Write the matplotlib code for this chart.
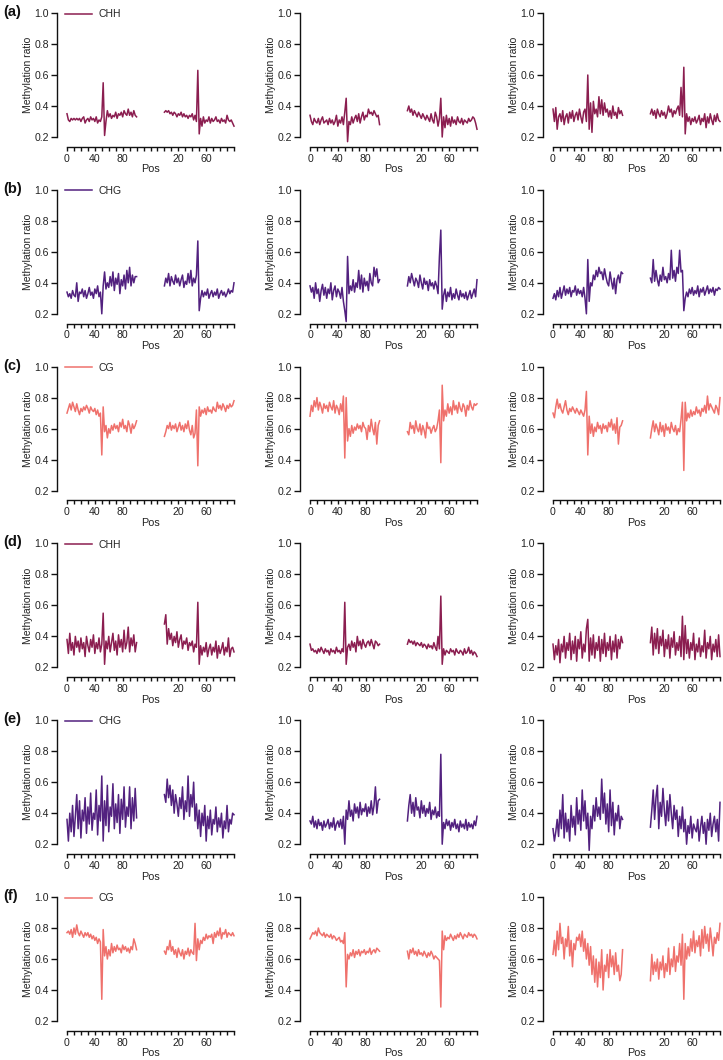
import matplotlib
matplotlib.use('Agg')
import matplotlib.pyplot as plt
import numpy as np

plt.rcParams['font.family'] = ['Liberation Sans', 'DejaVu Sans']

# ---------------- data ----------------
row_labels = ['(a)', '(b)', '(c)', '(d)', '(e)', '(f)']
row_context = ['CHH', 'CHG', 'CG', 'CHH', 'CHG', 'CG']
context_colors = {'CHH': '#8B1E50', 'CHG': '#52217F', 'CG': '#EF716C'}
x_tick_values = list(range(0, 241, 10))
x_tick_text = {0: '0', 40: '40', 80: '80', 160: '20', 200: '60'}
y_tick_values = [0.2, 0.4, 0.6, 0.8, 1.0]

a1_up = [0.35,0.31,0.30,0.32,0.31,0.32,0.31,0.32,0.31,0.32,0.30,0.32,0.33,0.29,0.31,0.32,0.30,0.33,0.31,0.32,0.30,0.33,0.29,0.31,0.30,0.33,0.55,0.21,0.30,0.37,0.33,0.35,0.32,0.34,0.33,0.36,0.32,0.35,0.34,0.36,0.33,0.37,0.35,0.34,0.38,0.34,0.36,0.33,0.37,0.34,0.33]
a1_dn = [0.36,0.37,0.36,0.37,0.35,0.36,0.34,0.36,0.35,0.33,0.35,0.34,0.36,0.33,0.35,0.33,0.34,0.32,0.34,0.33,0.35,0.31,0.34,0.30,0.63,0.22,0.32,0.27,0.33,0.29,0.31,0.30,0.33,0.29,0.32,0.30,0.31,0.33,0.30,0.31,0.29,0.32,0.30,0.31,0.29,0.34,0.31,0.30,0.31,0.29,0.27]
a2_up = [0.34,0.30,0.28,0.32,0.30,0.29,0.32,0.28,0.31,0.33,0.29,0.30,0.31,0.28,0.32,0.29,0.31,0.28,0.30,0.34,0.27,0.31,0.29,0.33,0.28,0.36,0.45,0.17,0.30,0.28,0.33,0.29,0.32,0.34,0.30,0.35,0.29,0.33,0.36,0.31,0.34,0.33,0.38,0.35,0.36,0.34,0.37,0.35,0.33,0.34,0.28]
a2_dn = [0.37,0.40,0.36,0.38,0.34,0.37,0.35,0.33,0.36,0.34,0.32,0.35,0.33,0.31,0.34,0.32,0.30,0.35,0.31,0.29,0.36,0.33,0.27,0.32,0.45,0.20,0.33,0.26,0.34,0.28,0.32,0.27,0.33,0.29,0.31,0.28,0.33,0.30,0.29,0.32,0.28,0.31,0.30,0.29,0.32,0.30,0.31,0.33,0.32,0.29,0.25]
a3_up = [0.38,0.30,0.39,0.25,0.33,0.35,0.30,0.37,0.28,0.33,0.35,0.29,0.36,0.32,0.37,0.30,0.34,0.36,0.31,0.38,0.33,0.29,0.36,0.38,0.30,0.60,0.25,0.42,0.23,0.43,0.35,0.38,0.33,0.46,0.35,0.44,0.34,0.42,0.36,0.38,0.33,0.37,0.32,0.40,0.34,0.36,0.32,0.39,0.35,0.37,0.34]
a3_dn = [0.35,0.38,0.34,0.37,0.32,0.38,0.35,0.33,0.37,0.34,0.36,0.32,0.35,0.40,0.36,0.38,0.33,0.37,0.35,0.38,0.40,0.34,0.52,0.33,0.65,0.22,0.35,0.30,0.33,0.28,0.32,0.30,0.33,0.29,0.31,0.34,0.28,0.32,0.30,0.35,0.26,0.33,0.29,0.35,0.31,0.28,0.34,0.30,0.35,0.31,0.30]

b1_up = [0.34,0.31,0.33,0.30,0.35,0.32,0.31,0.40,0.28,0.34,0.33,0.36,0.31,0.35,0.30,0.33,0.37,0.32,0.34,0.30,0.36,0.33,0.38,0.31,0.34,0.20,0.38,0.47,0.36,0.40,0.37,0.44,0.38,0.47,0.35,0.43,0.39,0.46,0.33,0.42,0.38,0.45,0.36,0.48,0.40,0.50,0.38,0.45,0.40,0.44,0.44]
b1_dn = [0.38,0.43,0.40,0.46,0.38,0.44,0.41,0.39,0.45,0.40,0.43,0.38,0.42,0.45,0.37,0.41,0.39,0.46,0.40,0.48,0.38,0.43,0.40,0.45,0.67,0.22,0.30,0.35,0.31,0.34,0.32,0.36,0.30,0.33,0.35,0.31,0.34,0.32,0.36,0.30,0.33,0.35,0.32,0.34,0.31,0.33,0.36,0.33,0.35,0.34,0.40]
b2_up = [0.38,0.34,0.37,0.30,0.40,0.33,0.36,0.28,0.35,0.39,0.32,0.37,0.30,0.36,0.33,0.40,0.29,0.35,0.38,0.31,0.36,0.34,0.30,0.37,0.28,0.22,0.15,0.57,0.33,0.38,0.35,0.42,0.34,0.40,0.37,0.48,0.36,0.45,0.34,0.43,0.38,0.41,0.35,0.46,0.40,0.38,0.50,0.44,0.49,0.40,0.42]
b2_dn = [0.38,0.44,0.40,0.46,0.42,0.38,0.43,0.41,0.37,0.45,0.40,0.36,0.43,0.39,0.41,0.35,0.42,0.38,0.40,0.36,0.41,0.38,0.33,0.57,0.74,0.23,0.32,0.36,0.28,0.34,0.31,0.37,0.29,0.33,0.30,0.36,0.32,0.29,0.35,0.31,0.33,0.30,0.34,0.29,0.32,0.35,0.30,0.33,0.36,0.31,0.42]
b3_up = [0.30,0.33,0.29,0.35,0.31,0.37,0.30,0.34,0.38,0.32,0.36,0.33,0.37,0.31,0.35,0.34,0.38,0.32,0.36,0.33,0.35,0.31,0.37,0.30,0.20,0.55,0.28,0.40,0.38,0.45,0.42,0.48,0.44,0.50,0.46,0.47,0.42,0.49,0.44,0.40,0.38,0.47,0.41,0.36,0.43,0.33,0.42,0.45,0.40,0.47,0.46]
b3_dn = [0.43,0.40,0.55,0.41,0.48,0.42,0.38,0.45,0.41,0.50,0.42,0.44,0.40,0.46,0.42,0.61,0.43,0.48,0.41,0.50,0.46,0.61,0.47,0.48,0.22,0.30,0.34,0.31,0.36,0.33,0.37,0.32,0.35,0.33,0.38,0.31,0.36,0.34,0.37,0.32,0.35,0.38,0.33,0.36,0.34,0.37,0.32,0.36,0.35,0.37,0.36]

c1_up = [0.70,0.73,0.76,0.72,0.77,0.74,0.71,0.76,0.72,0.69,0.73,0.71,0.74,0.72,0.75,0.73,0.70,0.74,0.72,0.71,0.73,0.69,0.72,0.68,0.70,0.43,0.74,0.58,0.62,0.54,0.60,0.57,0.62,0.59,0.63,0.60,0.62,0.58,0.64,0.61,0.66,0.60,0.62,0.58,0.65,0.62,0.57,0.63,0.60,0.62,0.65]
c1_dn = [0.55,0.58,0.62,0.60,0.64,0.59,0.62,0.60,0.63,0.58,0.61,0.64,0.59,0.62,0.58,0.63,0.60,0.65,0.59,0.56,0.62,0.54,0.57,0.72,0.36,0.74,0.68,0.72,0.70,0.73,0.69,0.74,0.71,0.72,0.70,0.74,0.72,0.71,0.77,0.73,0.75,0.72,0.76,0.74,0.71,0.75,0.73,0.76,0.74,0.75,0.78]
c2_up = [0.68,0.75,0.71,0.78,0.74,0.80,0.72,0.77,0.74,0.70,0.76,0.73,0.75,0.71,0.77,0.74,0.72,0.78,0.70,0.75,0.73,0.69,0.76,0.71,0.81,0.41,0.80,0.52,0.60,0.55,0.62,0.57,0.61,0.59,0.63,0.60,0.62,0.58,0.64,0.61,0.60,0.53,0.62,0.58,0.66,0.60,0.56,0.64,0.50,0.62,0.65]
c2_dn = [0.58,0.56,0.64,0.60,0.62,0.57,0.65,0.60,0.58,0.63,0.56,0.62,0.59,0.54,0.64,0.60,0.61,0.57,0.60,0.62,0.58,0.60,0.65,0.72,0.38,0.88,0.65,0.72,0.68,0.76,0.70,0.74,0.69,0.78,0.72,0.75,0.70,0.77,0.73,0.71,0.76,0.74,0.68,0.75,0.72,0.78,0.74,0.72,0.76,0.75,0.76]
c3_up = [0.70,0.67,0.74,0.79,0.73,0.76,0.72,0.70,0.74,0.78,0.72,0.69,0.73,0.71,0.74,0.72,0.70,0.73,0.71,0.69,0.72,0.70,0.68,0.72,0.84,0.43,0.68,0.57,0.63,0.55,0.61,0.58,0.64,0.60,0.62,0.57,0.63,0.60,0.62,0.58,0.64,0.61,0.66,0.59,0.63,0.57,0.67,0.50,0.61,0.62,0.65]
c3_dn = [0.54,0.60,0.65,0.58,0.63,0.60,0.56,0.64,0.58,0.62,0.55,0.63,0.59,0.61,0.57,0.64,0.60,0.58,0.62,0.56,0.60,0.58,0.66,0.77,0.33,0.77,0.65,0.70,0.67,0.72,0.68,0.71,0.69,0.74,0.70,0.72,0.68,0.73,0.71,0.75,0.70,0.81,0.72,0.76,0.74,0.72,0.70,0.75,0.73,0.69,0.80]

d1_up = [0.38,0.29,0.42,0.31,0.36,0.28,0.40,0.33,0.37,0.30,0.39,0.32,0.36,0.27,0.40,0.34,0.30,0.38,0.33,0.41,0.29,0.36,0.32,0.39,0.30,0.35,0.55,0.22,0.37,0.32,0.40,0.30,0.36,0.42,0.31,0.37,0.28,0.41,0.33,0.38,0.30,0.44,0.32,0.36,0.46,0.30,0.39,0.34,0.41,0.30,0.36]
d1_dn = [0.48,0.54,0.35,0.45,0.38,0.42,0.34,0.40,0.36,0.43,0.33,0.38,0.41,0.32,0.37,0.35,0.39,0.31,0.36,0.34,0.37,0.30,0.35,0.33,0.62,0.22,0.34,0.28,0.33,0.30,0.36,0.27,0.32,0.35,0.28,0.33,0.30,0.37,0.26,0.34,0.29,0.32,0.36,0.28,0.33,0.30,0.39,0.27,0.32,0.33,0.30]
d2_up = [0.35,0.31,0.32,0.30,0.31,0.29,0.32,0.30,0.33,0.31,0.29,0.32,0.30,0.31,0.28,0.32,0.30,0.31,0.29,0.33,0.30,0.31,0.29,0.32,0.30,0.62,0.22,0.33,0.35,0.31,0.37,0.33,0.36,0.30,0.40,0.34,0.37,0.32,0.38,0.35,0.33,0.36,0.37,0.34,0.38,0.35,0.32,0.37,0.36,0.34,0.35]
d2_dn = [0.35,0.38,0.36,0.37,0.35,0.37,0.34,0.36,0.35,0.34,0.36,0.33,0.35,0.34,0.32,0.35,0.33,0.34,0.32,0.36,0.33,0.31,0.40,0.32,0.66,0.22,0.32,0.28,0.31,0.30,0.29,0.32,0.30,0.31,0.28,0.32,0.30,0.29,0.31,0.30,0.28,0.32,0.29,0.30,0.33,0.29,0.31,0.28,0.30,0.29,0.27]
d3_up = [0.35,0.25,0.34,0.28,0.38,0.23,0.35,0.30,0.40,0.26,0.36,0.31,0.42,0.25,0.37,0.29,0.40,0.24,0.38,0.32,0.43,0.26,0.35,0.30,0.45,0.51,0.24,0.39,0.28,0.41,0.26,0.36,0.31,0.40,0.24,0.38,0.29,0.42,0.27,0.36,0.31,0.40,0.25,0.37,0.30,0.41,0.26,0.38,0.32,0.40,0.36]
d3_dn = [0.36,0.46,0.28,0.42,0.32,0.45,0.29,0.40,0.34,0.44,0.27,0.38,0.32,0.41,0.26,0.39,0.33,0.43,0.28,0.36,0.31,0.40,0.27,0.53,0.25,0.47,0.29,0.38,0.26,0.36,0.31,0.42,0.25,0.35,0.30,0.39,0.27,0.34,0.30,0.44,0.26,0.36,0.32,0.40,0.25,0.35,0.30,0.38,0.27,0.41,0.27]

e1_up = [0.36,0.22,0.40,0.28,0.45,0.25,0.38,0.52,0.30,0.48,0.24,0.42,0.35,0.50,0.27,0.44,0.33,0.53,0.29,0.40,0.36,0.55,0.26,0.45,0.35,0.64,0.22,0.48,0.32,0.58,0.28,0.44,0.38,0.59,0.30,0.46,0.34,0.52,0.27,0.49,0.36,0.57,0.31,0.44,0.38,0.57,0.30,0.50,0.35,0.56,0.37]
e1_dn = [0.52,0.47,0.62,0.50,0.58,0.45,0.55,0.40,0.52,0.46,0.38,0.50,0.43,0.57,0.36,0.48,0.41,0.64,0.38,0.52,0.44,0.60,0.35,0.46,0.30,0.42,0.25,0.40,0.32,0.45,0.22,0.38,0.30,0.42,0.26,0.36,0.33,0.44,0.28,0.37,0.31,0.40,0.24,0.35,0.30,0.45,0.28,0.36,0.33,0.40,0.39]
e2_up = [0.35,0.33,0.38,0.31,0.35,0.30,0.36,0.32,0.34,0.29,0.35,0.31,0.33,0.36,0.30,0.34,0.31,0.37,0.29,0.33,0.35,0.31,0.36,0.30,0.38,0.20,0.42,0.36,0.48,0.38,0.42,0.35,0.46,0.40,0.44,0.37,0.47,0.39,0.43,0.41,0.46,0.38,0.44,0.40,0.48,0.39,0.45,0.57,0.40,0.48,0.49]
e2_dn = [0.35,0.45,0.52,0.40,0.47,0.38,0.50,0.42,0.44,0.37,0.48,0.40,0.45,0.38,0.43,0.40,0.47,0.36,0.42,0.39,0.44,0.37,0.41,0.38,0.78,0.20,0.34,0.30,0.36,0.32,0.35,0.29,0.34,0.31,0.36,0.30,0.33,0.28,0.35,0.31,0.33,0.30,0.36,0.29,0.34,0.31,0.33,0.30,0.35,0.32,0.38]
e3_up = [0.30,0.22,0.28,0.36,0.25,0.42,0.30,0.52,0.24,0.40,0.28,0.36,0.22,0.45,0.31,0.38,0.26,0.50,0.33,0.42,0.29,0.55,0.35,0.48,0.30,0.40,0.16,0.38,0.30,0.45,0.35,0.50,0.38,0.44,0.36,0.62,0.40,0.53,0.33,0.46,0.28,0.55,0.32,0.47,0.26,0.40,0.35,0.45,0.30,0.38,0.36]
e3_dn = [0.31,0.42,0.55,0.36,0.50,0.58,0.30,0.47,0.38,0.56,0.42,0.32,0.48,0.35,0.52,0.40,0.30,0.45,0.36,0.42,0.25,0.38,0.30,0.44,0.28,0.36,0.20,0.32,0.27,0.38,0.24,0.33,0.30,0.28,0.36,0.22,0.31,0.38,0.27,0.34,0.20,0.36,0.29,0.40,0.25,0.33,0.38,0.28,0.36,0.22,0.47]

f1_up = [0.77,0.78,0.76,0.79,0.74,0.80,0.76,0.82,0.77,0.75,0.78,0.76,0.74,0.77,0.75,0.77,0.74,0.76,0.73,0.75,0.72,0.74,0.70,0.73,0.71,0.34,0.79,0.62,0.68,0.60,0.66,0.62,0.70,0.64,0.68,0.65,0.69,0.66,0.67,0.64,0.69,0.66,0.68,0.65,0.67,0.64,0.68,0.66,0.73,0.70,0.66]
f1_dn = [0.65,0.63,0.68,0.66,0.72,0.65,0.68,0.63,0.66,0.61,0.67,0.64,0.62,0.66,0.60,0.65,0.63,0.67,0.62,0.66,0.64,0.63,0.83,0.59,0.73,0.66,0.72,0.70,0.74,0.72,0.76,0.73,0.75,0.74,0.76,0.70,0.77,0.74,0.78,0.75,0.80,0.73,0.77,0.76,0.79,0.74,0.77,0.76,0.75,0.77,0.75]
f2_up = [0.73,0.75,0.77,0.76,0.78,0.75,0.80,0.77,0.76,0.75,0.77,0.74,0.76,0.75,0.74,0.76,0.73,0.75,0.74,0.72,0.73,0.74,0.71,0.72,0.70,0.77,0.42,0.63,0.60,0.64,0.62,0.66,0.61,0.65,0.63,0.66,0.62,0.65,0.64,0.66,0.63,0.65,0.64,0.67,0.63,0.65,0.66,0.64,0.67,0.66,0.65]
f2_dn = [0.65,0.60,0.66,0.64,0.67,0.63,0.65,0.62,0.66,0.63,0.64,0.62,0.65,0.63,0.61,0.64,0.62,0.65,0.63,0.60,0.62,0.61,0.60,0.59,0.29,0.78,0.66,0.75,0.72,0.74,0.73,0.76,0.74,0.72,0.75,0.73,0.76,0.74,0.77,0.75,0.73,0.76,0.75,0.74,0.77,0.75,0.76,0.74,0.76,0.75,0.73]
f3_up = [0.63,0.72,0.62,0.78,0.66,0.83,0.70,0.74,0.60,0.73,0.68,0.81,0.62,0.72,0.55,0.70,0.66,0.74,0.72,0.76,0.68,0.78,0.65,0.73,0.60,0.70,0.56,0.68,0.50,0.62,0.45,0.60,0.42,0.58,0.48,0.66,0.40,0.56,0.52,0.63,0.48,0.66,0.55,0.62,0.50,0.64,0.52,0.56,0.46,0.50,0.66]
f3_dn = [0.46,0.63,0.50,0.58,0.52,0.60,0.47,0.58,0.53,0.62,0.48,0.57,0.52,0.67,0.50,0.60,0.55,0.68,0.52,0.62,0.58,0.70,0.56,0.76,0.34,0.70,0.60,0.68,0.62,0.73,0.65,0.78,0.64,0.72,0.68,0.75,0.62,0.79,0.67,0.81,0.70,0.76,0.65,0.80,0.72,0.62,0.74,0.70,0.77,0.72,0.83]

panels = [
    [(a1_up, a1_dn), (a2_up, a2_dn), (a3_up, a3_dn)],
    [(b1_up, b1_dn), (b2_up, b2_dn), (b3_up, b3_dn)],
    [(c1_up, c1_dn), (c2_up, c2_dn), (c3_up, c3_dn)],
    [(d1_up, d1_dn), (d2_up, d2_dn), (d3_up, d3_dn)],
    [(e1_up, e1_dn), (e2_up, e2_dn), (e3_up, e3_dn)],
    [(f1_up, f1_dn), (f2_up, f2_dn), (f3_up, f3_dn)],
]

# ---------------- layout ----------------
W, H = 723, 1060
fig = plt.figure(figsize=(W / 100, H / 100), dpi=100)
col_left = [67, 310, 553]
col_w = 167
row_top0 = 13
pitch = 176.8
ph = 124
txt_col = '#222222'

for r in range(6):
    ctx = row_context[r]
    color = context_colors[ctx]
    for c in range(3):
        top = row_top0 + pitch * r
        ax = fig.add_axes([col_left[c] / W, 1 - (top + ph) / H, col_w / W, ph / H])
        up, dn = panels[r][c]
        x1 = np.linspace(0, 100, len(up))
        x2 = 140 + np.linspace(0, 100, len(dn))
        line, = ax.plot(x1, up, color=color, lw=1.1, clip_on=False, label=ctx)
        ax.plot(x2, dn, color=color, lw=1.1, clip_on=False)
        ax.set_xlim(0, 240)
        ax.set_ylim(0.2, 1.0)
        for s in ['top', 'right']:
            ax.spines[s].set_visible(False)
        ax.spines['left'].set_position(('outward', 7))
        ax.spines['bottom'].set_position(('outward', 7))
        for s in ['left', 'bottom']:
            ax.spines[s].set_linewidth(1.0)
            ax.spines[s].set_color('#111111')
        ax.set_yticks(y_tick_values)
        ax.set_yticklabels(['%.1f' % v for v in y_tick_values])
        ax.set_xticks(x_tick_values)
        ax.set_xticklabels([x_tick_text.get(v, '') for v in x_tick_values])
        ax.tick_params(axis='y', length=4, width=1.0, labelsize=7.6, pad=2,
                       colors='#111111', labelcolor=txt_col)
        ax.tick_params(axis='x', length=3, width=1.0, labelsize=7.6, pad=2,
                       colors='#111111', labelcolor=txt_col)
        ax.set_ylabel('Methylation ratio', fontsize=7.5, color=txt_col, labelpad=1)
        ax.set_xlabel('Pos', fontsize=7.8, color=txt_col, labelpad=0.5)
        if c == 0:
            ax.legend(handles=[line], loc='upper left', frameon=False,
                      fontsize=7.5, handlelength=2.6, handletextpad=0.6,
                      borderpad=0, borderaxespad=0,
                      bbox_to_anchor=(-0.012, 1.03), labelcolor=txt_col)
            fig.text(3 / W, 1 - (top - 1) / H, row_labels[r], fontsize=10.5,
                     fontweight='bold', va='center', ha='left', color='#111111')

fig.savefig('out.png', dpi=100)
